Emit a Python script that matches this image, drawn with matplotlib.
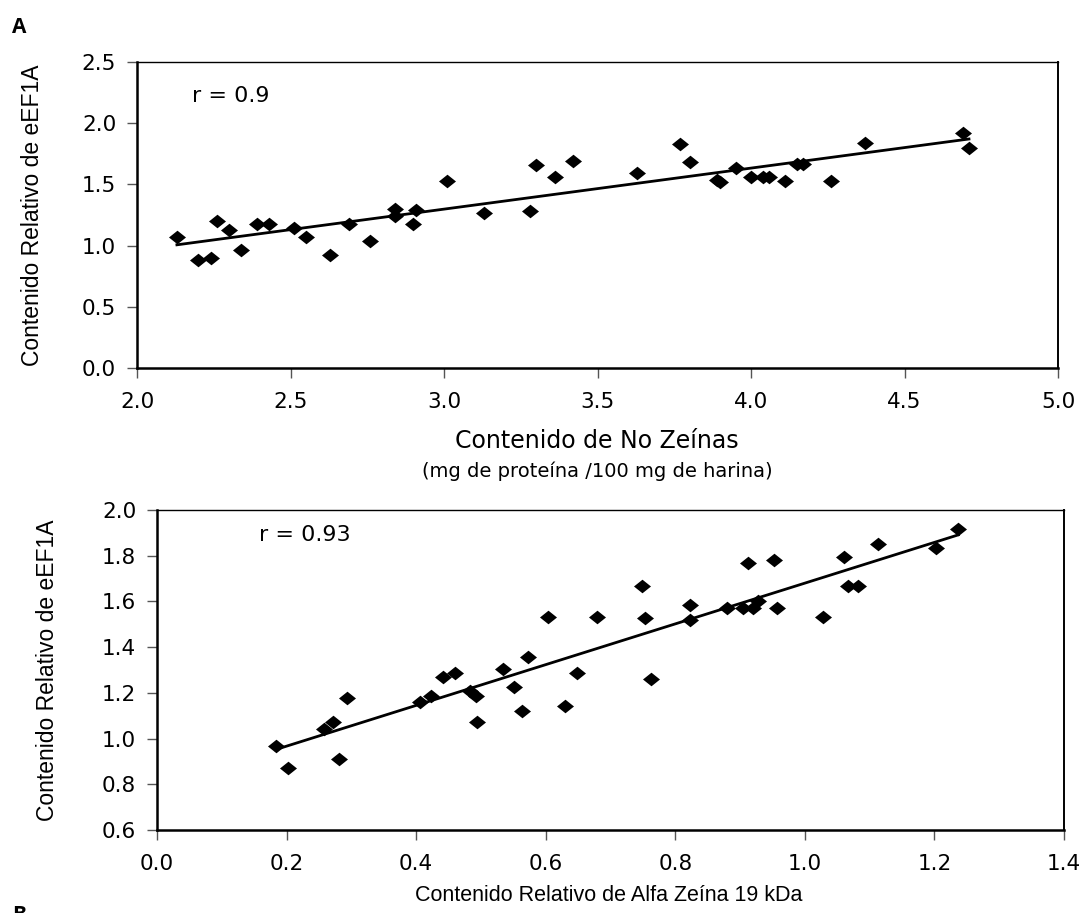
import numpy as np
import matplotlib
matplotlib.use("Agg")
import matplotlib.pyplot as plt

# Panel A: contenido de no zeinas vs eEF1A
no_zeinas = [2.13, 2.20, 2.24, 2.26, 2.30, 2.34, 2.39, 2.43, 2.51, 2.55,
             2.63, 2.69, 2.76, 2.84, 2.84, 2.90, 2.91, 3.01, 3.13, 3.28,
             3.30, 3.36, 3.42, 3.63, 3.77, 3.80, 3.89, 3.90, 3.95, 4.00,
             4.04, 4.06, 4.11, 4.15, 4.17, 4.26, 4.37, 4.69, 4.71]
eef1a_a = [1.07, 0.88, 0.90, 1.20, 1.13, 0.96, 1.18, 1.18, 1.14, 1.07,
           0.92, 1.18, 1.04, 1.30, 1.24, 1.18, 1.29, 1.53, 1.27, 1.28,
           1.66, 1.56, 1.69, 1.59, 1.83, 1.68, 1.54, 1.52, 1.63, 1.56,
           1.56, 1.56, 1.53, 1.67, 1.67, 1.53, 1.84, 1.92, 1.80]

# Panel B: alfa zeina 19 kDa vs eEF1A
alfa19 = [0.183, 0.202, 0.258, 0.272, 0.281, 0.293, 0.406, 0.423, 0.441, 0.460,
          0.483, 0.492, 0.494, 0.534, 0.551, 0.563, 0.572, 0.604, 0.629, 0.649,
          0.679, 0.749, 0.753, 0.763, 0.823, 0.823, 0.880, 0.904, 0.912, 0.920,
          0.928, 0.953, 0.957, 1.028, 1.060, 1.067, 1.082, 1.113, 1.202, 1.237]
eef1a_b = [0.967, 0.872, 1.040, 1.074, 0.909, 1.178, 1.158, 1.187, 1.270, 1.285,
           1.207, 1.187, 1.074, 1.303, 1.224, 1.120, 1.355, 1.534, 1.144, 1.285,
           1.534, 1.669, 1.526, 1.261, 1.586, 1.519, 1.572, 1.572, 1.767, 1.572,
           1.602, 1.781, 1.572, 1.533, 1.796, 1.667, 1.667, 1.850, 1.832, 1.917]

W, H = 1085, 913
fig = plt.figure(figsize=(W / 100, H / 100), dpi=100)
fig.patch.set_facecolor("white")

tick_font = {"family": "DejaVu Sans", "size": 15.5}
rombo = [(-1, 0), (0, 0.8), (1, 0), (0, -0.8), (-1, 0)]


def px_rect(left, top, right, bottom):
    return [left / W, 1 - bottom / H, (right - left) / W, (bottom - top) / H]


def panel(ax, x, y, xlim, ylim, xstep, ystep, rtxt, rpos):
    ax.scatter(x, y, marker=rombo, s=150, color="black", zorder=3, linewidths=0)
    m, b = np.polyfit(x, y, 1)
    xl = np.array([min(x), max(x)])
    ax.plot(xl, m * xl + b, color="black", lw=2.0, zorder=2)
    ax.set_xlim(*xlim)
    ax.set_ylim(*ylim)
    ax.set_xticks(np.arange(xlim[0], xlim[1] + 1e-9, xstep))
    ax.set_yticks(np.arange(ylim[0], ylim[1] + 1e-9, ystep))
    ax.xaxis.set_major_formatter(matplotlib.ticker.FormatStrFormatter("%.1f"))
    ax.yaxis.set_major_formatter(matplotlib.ticker.FormatStrFormatter("%.1f"))
    ax.tick_params(direction="out", length=7, width=1, color="#555555",
                   labelcolor="black")
    ax.tick_params(axis="x", pad=10)
    ax.tick_params(axis="y", pad=8)
    for lab in ax.get_xticklabels() + ax.get_yticklabels():
        lab.set_fontfamily(tick_font["family"])
        lab.set_fontsize(tick_font["size"])
    ax.spines["left"].set_linewidth(1.8)
    ax.spines["bottom"].set_linewidth(1.8)
    ax.spines["top"].set_linewidth(1.0)
    ax.spines["right"].set_linewidth(1.4)
    ax.text(rpos[0], rpos[1], rtxt, fontsize=16, family="DejaVu Sans",
            ha="left", va="center")


axA = fig.add_axes(px_rect(137, 62, 1058, 368))
panel(axA, no_zeinas, eef1a_a, (2.0, 5.0), (0.0, 2.5), 0.5, 0.5,
      "r = 0.9", (2.18, 2.225))

axB = fig.add_axes(px_rect(157, 510, 1064, 830))
panel(axB, alfa19, eef1a_b, (0.0, 1.4), (0.6, 2.0), 0.2, 0.2,
      "r = 0.93", (0.157, 1.89))

# textos de la figura
fig.text(12 / W, 1 - 33 / H, "A", fontsize=15, fontweight="bold",
         family="Open Sans", va="baseline")
fig.text(12 / W, 1 - 905 / H, "B", fontsize=15, fontweight="bold",
         family="Open Sans", va="top")

fig.text(33 / W, 1 - 215 / H, "Contenido Relativo de eEF1A", rotation=90,
         fontsize=16.5, family="Liberation Sans", ha="center", va="center")
fig.text(48 / W, 1 - 670 / H, "Contenido Relativo de eEF1A", rotation=90,
         fontsize=16.5, family="Liberation Sans", ha="center", va="center")

fig.text(597 / W, 1 - 441 / H, "Contenido de No Zeínas", fontsize=17,
         family="DejaVu Sans", ha="center", va="center")
fig.text(597 / W, 1 - 471 / H, "(mg de proteína /100 mg de harina)",
         fontsize=14, family="DejaVu Sans", ha="center", va="center")
fig.text(609 / W, 1 - 895 / H, "Contenido Relativo de Alfa Zeína 19 kDa",
         fontsize=15.5, family="Liberation Sans", ha="center", va="center")

fig.savefig("out.png", dpi=100)
